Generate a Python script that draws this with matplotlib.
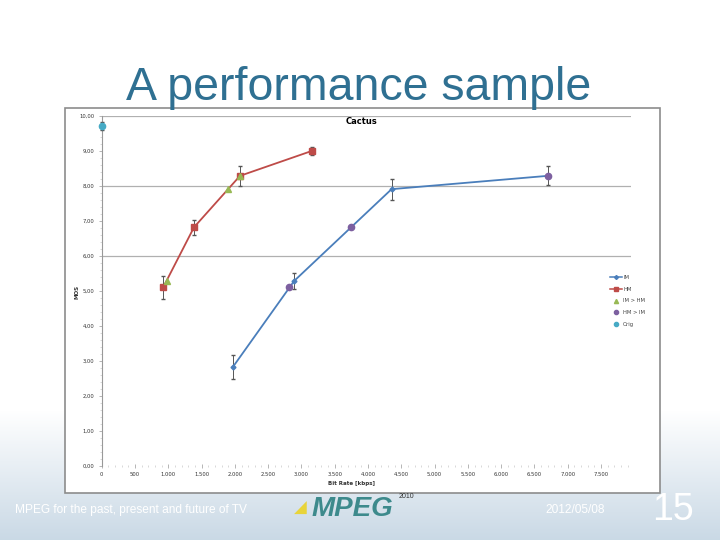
import numpy as np
import matplotlib
matplotlib.use('Agg')
from matplotlib import pyplot as plt
from matplotlib.patches import Rectangle
from matplotlib.lines import Line2D
from matplotlib.ticker import FixedLocator, MultipleLocator, FuncFormatter

# data (bit rate in kbps, MOS)
imRate = [1967, 2892, 4354, 6697]
imMos = [2.82, 5.29, 7.91, 8.29]
imErr = [0.34, 0.23, 0.30, 0.27]

hmRate = [925, 1386, 2077, 3153]
hmMos = [5.11, 6.82, 8.29, 9.00]
hmErr = [0.33, 0.22, 0.28, 0.12]

imhmRate = [985, 1901, 2077]
imhmMos = [5.29, 7.91, 8.29]

hmimRate = [2817, 3744, 6697]
hmimMos = [5.11, 6.82, 8.29]

origRate = [0]
origMos = [9.72]
origErr = [0.12]

xTicks = np.arange(0, 8000, 500)
yTicks = np.arange(0, 11, 1)

W, H = 720, 540
fig = plt.figure(figsize=(7.2, 5.4), dpi=100)

#slide background with the pale blue fade at the bottom
bg = fig.add_axes([0, 0, 1, 1], zorder=-2)
bg.set_axis_off()
grad = np.ones((H, 1, 3))
for i in range(H):
    t = min(max((i - 410) / 130.0, 0), 1)
    grad[i, 0] = (1 - t) * np.array([1, 1, 1]) + t * np.array([0.79, 0.85, 0.90])
bg.imshow(grad, aspect='auto', extent=[0, 1, 0, 1], origin='upper')
bg.set_xlim(0, 1)
bg.set_ylim(0, 1)

#pasted chart picture with grey frame
fig.patches.append(Rectangle((65 / W, 1 - 493 / H), 595 / W, 385 / H,
                             transform=fig.transFigure, facecolor='white',
                             edgecolor='#8c8c8c', linewidth=1.2, zorder=-1))

fig.text(359 / W, 1 - 100 / H, 'A performance sample', ha='center', va='baseline',
         fontsize=33.5, color='#2f7092', family='Liberation Sans')

ax = fig.add_axes([101.7 / W, 1 - 466 / H, 529.3 / W, 350 / H], zorder=2)
ax.set_facecolor('none')
ax.set_xlim(0, 7950)
ax.set_ylim(0, 10)

for gy in [6, 8, 10]:
    ax.axhline(gy, color='#b0b0b0', linewidth=0.9, zorder=0)

blue = '#4a7ebb'
red = '#be4b48'
olive = '#98b954'
purple = '#7d60a0'
cyan = '#46aac5'
errCol = '#555555'

ax.errorbar(imRate, imMos, yerr=imErr, color=blue, marker='D', markersize=2.5,
            linewidth=1.3, ecolor=errCol, elinewidth=0.7, capsize=1.5, zorder=3)
ax.errorbar(hmRate, hmMos, yerr=hmErr, color=red, marker='s', markersize=5,
            linewidth=1.3, ecolor=errCol, elinewidth=0.7, capsize=1.5, zorder=3)
ax.plot(imhmRate, imhmMos, linestyle='none', marker='^', markersize=4.5, color=olive, zorder=4)
ax.plot(hmimRate, hmimMos, linestyle='none', marker='o', markersize=4.5, color=purple, zorder=4)
ax.errorbar(origRate, origMos, yerr=origErr, linestyle='none', marker='o', markersize=4.5,
            color=cyan, ecolor=errCol, elinewidth=0.7, capsize=1.5, zorder=4,
            clip_on=False)

for s in ['top', 'right', 'bottom']:
    ax.spines[s].set_visible(False)
ax.spines['left'].set_color('#999999')
ax.spines['left'].set_linewidth(0.8)

ax.xaxis.set_major_locator(FixedLocator(xTicks))
ax.xaxis.set_minor_locator(MultipleLocator(100))
ax.yaxis.set_major_locator(FixedLocator(yTicks))
ax.yaxis.set_minor_locator(MultipleLocator(0.2))
ax.xaxis.set_major_formatter(FuncFormatter(lambda v, p: f'{int(v):,}'.replace(',', '.')))
ax.yaxis.set_major_formatter(FuncFormatter(lambda v, p: f'{v:.2f}'.replace('.', ',')))
ax.tick_params(axis='both', which='major', labelsize=3.8, length=2.5, width=0.5,
               colors='#999999', labelcolor='#333333', pad=3)
ax.tick_params(axis='both', which='minor', length=1.5, width=0.4, colors='#bbbbbb')
ax.tick_params(axis='x', which='both', direction='inout')

fig.text(351 / W, 1 - 483 / H, 'Bit Rate [kbps]', ha='center', va='center',
         fontsize=4, fontweight='bold', color='#333333')
fig.text(77 / W, 1 - 292 / H, 'MOS', ha='center', va='center', rotation=90,
         fontsize=4, fontweight='bold', color='#333333')
fig.text(362 / W, 1 - 121 / H, 'Cactus', ha='center', va='center',
         fontsize=6, fontweight='bold', color='black')

#legend in the reference order
handles = [
    Line2D([], [], color=blue, marker='D', markersize=2, linewidth=1.1),
    Line2D([], [], color=red, marker='s', markersize=3, linewidth=1.1),
    Line2D([], [], color=olive, marker='^', markersize=3, linestyle='none'),
    Line2D([], [], color=purple, marker='o', markersize=3, linestyle='none'),
    Line2D([], [], color=cyan, marker='o', markersize=3, linestyle='none'),
]
labels = ['IM', 'HM', 'IM > HM', 'HM > IM', 'Orig']
leg = fig.legend(handles, labels, loc='center left', bbox_to_anchor=(610 / W, 1 - 301 / H),
                 frameon=False, fontsize=3.8, handlelength=2.2, labelspacing=1.25,
                 handletextpad=0.3, borderpad=0, borderaxespad=0)
for t in leg.get_texts():
    t.set_color('#444444')

#footer
fig.text(131 / W, 1 - 510 / H, 'MPEG for the past, present and future of TV', ha='center',
         va='center', fontsize=8.6, color='white', family='Liberation Sans')
fig.text(575 / W, 1 - 510 / H, '2012/05/08', ha='center', va='center', fontsize=8.6,
         color='white', family='Liberation Sans')
fig.text(673 / W, 1 - 510 / H, '15', ha='center', va='center', fontsize=27,
         color='white', family='Liberation Sans')
fig.text(352 / W, 1 - 509 / H, 'MPEG', ha='center', va='center', fontsize=20,
         fontweight='bold', color='#3d8a8c', family='Liberation Sans', style='italic')
fig.text(300 / W, 1 - 508 / H, '\u25e2', ha='center', va='center', fontsize=12,
         color='#e8d43a')
fig.text(406 / W, 1 - 497 / H, '2010', ha='center', va='center', fontsize=5,
         color='#333333', family='Liberation Sans')

fig.savefig('out.png', dpi=100)
